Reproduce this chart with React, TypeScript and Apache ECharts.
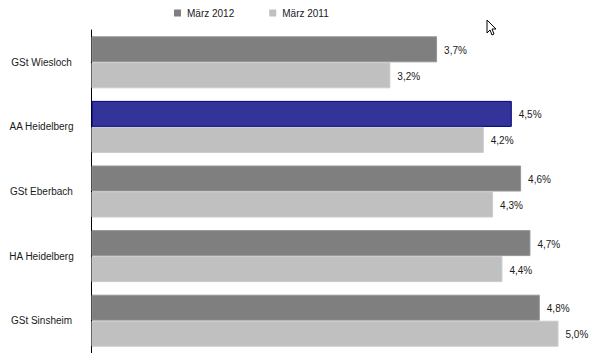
import React, { useEffect, useRef } from "react";
import * as echarts from "echarts";

const categories = ["GSt Wiesloch", "AA Heidelberg", "GSt Eberbach", "HA Heidelberg", "GSt Sinsheim"];
const values2012 = [3.7, 4.5, 4.6, 4.7, 4.8];
const values2011 = [3.2, 4.2, 4.3, 4.4, 5.0];
const seriesNames = ["März 2012", "März 2011"];
const highlighted = "AA Heidelberg";

const FONT = "'Liberation Sans', Arial, sans-serif";
const fmt = (p: any) => `${Number(p.value).toFixed(1).replace(".", ",")}%`;
const label = {
  show: true,
  position: "right" as const,
  distance: 7,
  offset: [0, 1],
  formatter: fmt,
  fontFamily: FONT,
  fontSize: 10,
  color: "#1a1a1a",
};

export default function App() {
  const ref = useRef<HTMLDivElement>(null);
  useEffect(() => {
    document.body.style.margin = "0";
    const chart = echarts.init(ref.current!, undefined, { renderer: "svg" });
    chart.setOption({
      animation: false,
      backgroundColor: "#fff",
      legend: {
        left: 169,
        top: 3,
        itemWidth: 7,
        itemHeight: 7,
        itemGap: 35,
        icon: "rect",
        itemStyle: { borderWidth: 0 },
        textStyle: { fontFamily: FONT, fontSize: 10, color: "#1a1a1a", padding: [0, 0, 0, 1] },
        data: seriesNames,
      },
      grid: { left: 91.5, top: 30, width: 495, height: 324, containLabel: false },
      xAxis: { type: "value", min: 0, max: 5.3, show: false },
      yAxis: {
        type: "category",
        inverse: true,
        data: categories,
        axisLine: { show: true, lineStyle: { color: "#000", width: 1 } },
        axisTick: { show: false },
        axisLabel: {
          fontFamily: FONT,
          fontSize: 10,
          color: "#1a1a1a",
          align: "center",
          margin: 50,
        },
      },
      series: [
        {
          name: seriesNames[0],
          type: "bar",
          barWidth: 26,
          barGap: 0,
          itemStyle: { color: "#7f7f7f", borderColor: "#959595", borderWidth: 1 },
          label,
          data: values2012.map((v, i) =>
            categories[i] === highlighted
              ? { value: v, itemStyle: { color: "#333399", borderColor: "#000080", borderWidth: 1 } }
              : v
          ),
        },
        {
          name: seriesNames[1],
          type: "bar",
          barWidth: 26,
          barGap: 0,
          itemStyle: { color: "#c0c0c0", borderColor: "#cacaca", borderWidth: 1 },
          label,
          data: values2011,
        },
      ],
      graphic: [
        {
          type: "polygon",
          shape: {
            points: [
              [487, 20], [487, 33], [490, 30], [492, 35], [494, 34], [492, 29], [496, 29],
            ],
          },
          style: { fill: "#fff", stroke: "#000", lineWidth: 1 },
        },
      ],
    });
    return () => chart.dispose();
  }, []);
  return <div ref={ref} style={{ width: 597, height: 353 }} />;
}
